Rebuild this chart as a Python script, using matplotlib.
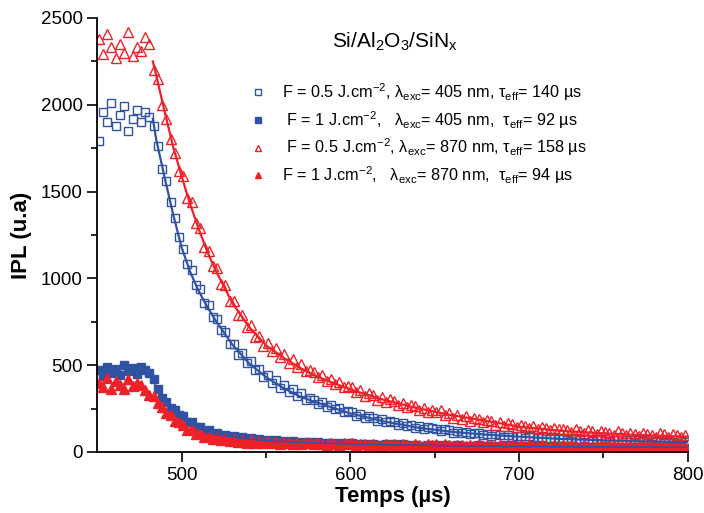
import matplotlib.pyplot as plt
import numpy as np

plt.rcParams['font.family'] = ['Liberation Sans', 'DejaVu Sans']
plt.rcParams['mathtext.fontset'] = 'custom'
plt.rcParams['mathtext.rm'] = 'Liberation Sans'
plt.rcParams['mathtext.it'] = 'Liberation Sans:italic'

# sample times (us), one point every 2.5 us
t = np.arange(451, 800, 2.5)

# F = 0.5 J/cm2, 405 nm (open squares)
b_open = [1790, 1960, 1900, 2010, 1880, 1940, 1990, 1850, 1920, 1970,
          1900, 1960, 1930, 1880, 1760, 1630, 1560, 1440, 1350, 1240,
          1170, 1080, 1050, 960, 940, 860, 845, 775, 765, 700,
          690, 620, 620, 560, 570, 512, 522, 470, 480, 432,
          445, 400, 414, 370, 386, 343, 360, 320, 338, 298,
          310, 298, 278, 285, 258, 268, 245, 252, 230, 238,
          228, 208, 218, 196, 205, 198, 180, 190, 170, 178,
          172, 158, 165, 150, 155, 140, 150, 132, 142, 136,
          135, 120, 130, 124, 112, 122, 108, 116, 104, 112,
          110, 98, 106, 94, 102, 98, 88, 97, 86, 94,
          92, 82, 90, 86, 78, 86, 75, 83, 80, 72,
          81, 70, 79, 74, 66, 77, 72, 64, 75, 70,
          72, 63, 70, 68, 60, 69, 66, 58, 67, 64,
          66, 58, 64, 62, 55, 63, 60, 54, 62, 59]

# F = 1 J/cm2, 405 nm (filled squares)
b_full = [470, 440, 490, 455, 480, 445, 500, 465, 485, 450,
          490, 470, 455, 420, 360, 310, 290, 255, 242, 210,
          205, 172, 170, 143, 145, 121, 124, 104, 109, 92,
          100, 82, 91, 75, 85, 69, 80, 65, 76, 61,
          70, 60, 66, 57, 63, 55, 61, 58, 52, 57,
          58, 49, 55, 47, 54, 50, 44, 51, 45, 49,
          50, 42, 48, 45, 40, 47, 42, 38, 45, 40,
          44, 37, 43, 40, 35, 42, 37, 34, 40, 36,
          41, 34, 39, 37, 32, 38, 34, 31, 37, 33,
          38, 31, 36, 34, 29, 35, 32, 29, 34, 31,
          36, 29, 35, 32, 27, 34, 30, 27, 33, 29,
          34, 27, 33, 30, 25, 32, 29, 25, 31, 27,
          32, 26, 31, 29, 24, 31, 27, 24, 30, 26,
          31, 25, 30, 28, 23, 30, 26, 23, 29, 25]

# F = 0.5 J/cm2, 870 nm (open triangles)
r_open = [2380, 2290, 2410, 2330, 2270, 2350, 2300, 2420, 2280, 2330,
          2310, 2390, 2350, 2200, 2150, 2000, 1920, 1800, 1720, 1620,
          1590, 1460, 1440, 1320, 1290, 1180, 1160, 1070, 1060, 970,
          960, 870, 870, 790, 790, 720, 730, 665, 670, 610,
          630, 580, 600, 545, 565, 515, 535, 490, 505, 465,
          470, 462, 430, 445, 410, 420, 390, 405, 372, 380,
          372, 345, 355, 325, 340, 330, 302, 318, 290, 305,
          295, 270, 282, 258, 270, 262, 240, 255, 228, 242,
          232, 240, 210, 222, 198, 214, 192, 205, 180, 196,
          190, 170, 184, 178, 158, 172, 150, 166, 162, 142,
          158, 152, 136, 150, 132, 146, 140, 124, 138, 133,
          132, 128, 114, 130, 122, 108, 124, 119, 104, 120,
          116, 112, 98, 118, 110, 96, 112, 105, 94, 110,
          106, 100, 88, 108, 102, 86, 104, 98, 84, 100]

# F = 1 J/cm2, 870 nm (filled triangles)
r_full = [400, 375, 425, 360, 410, 385, 365, 420, 380, 400,
          385, 355, 330, 320, 280, 260, 225, 210, 180, 170,
          158, 126, 130, 102, 110, 86, 94, 75, 85, 67,
          78, 61, 73, 57, 69, 54, 66, 51, 64, 49,
          60, 50, 57, 47, 56, 52, 45, 54, 47, 52,
          53, 44, 51, 47, 41, 50, 45, 40, 49, 43,
          49, 41, 47, 44, 38, 47, 42, 37, 46, 40,
          47, 39, 45, 42, 36, 44, 40, 35, 44, 38,
          44, 37, 43, 40, 34, 42, 38, 33, 42, 36,
          43, 35, 42, 38, 32, 41, 37, 32, 40, 35,
          41, 34, 40, 37, 31, 39, 35, 30, 39, 34,
          40, 33, 39, 36, 30, 38, 34, 29, 38, 33,
          39, 32, 38, 35, 29, 37, 33, 28, 37, 32,
          38, 31, 37, 34, 28, 36, 32, 28, 36, 31]

# fitted curves
fit_t = [483, 485, 490, 495, 500, 505, 510, 515, 520, 530, 540, 550, 560,
         570, 580, 600, 620, 640, 660, 680, 700, 725, 750, 775, 800]
fit_b_open = [1920, 1800, 1580, 1370, 1180, 1040, 930, 840, 760, 620, 510, 432,
              370, 320, 285, 222, 176, 140, 116, 100, 88, 75, 67, 61, 57]
fit_b_full = [420, 370, 295, 240, 200, 165, 138, 118, 104, 86, 74, 65, 60,
              55, 52, 46, 42, 39, 36, 34, 32, 30, 29, 28, 27]
fit_r_open = [2250, 2170, 1960, 1760, 1590, 1430, 1290, 1160, 1050, 860, 720,
              615, 545, 485, 435, 360, 300, 252, 212, 180, 146, 122, 107, 96, 88]
fit_r_full = [315, 295, 245, 195, 155, 125, 103, 88, 78, 65, 58, 53, 50,
              48, 46, 43, 41, 39, 38, 37, 36, 35, 34, 33, 33]

labels = [r'F = 0.5 J.cm$^{-2}$, λ$_{\mathrm{exc}}$= 405 nm, τ$_{\mathrm{eff}}$= 140 µs',
          r' F = 1 J.cm$^{-2}$,   λ$_{\mathrm{exc}}$= 405 nm,  τ$_{\mathrm{eff}}$= 92 µs',
          r' F = 0.5 J.cm$^{-2}$, λ$_{\mathrm{exc}}$= 870 nm, τ$_{\mathrm{eff}}$= 158 µs',
          r'F = 1 J.cm$^{-2}$,   λ$_{\mathrm{exc}}$= 870 nm,  τ$_{\mathrm{eff}}$= 94 µs']

blue = '#2f52a3'
red = '#ee2128'

fig = plt.figure(figsize=(7.04, 5.13), dpi=100)
ax = fig.add_axes([0.138, 0.119, 0.839, 0.846])

h1, = ax.plot(t, b_open, 's', ms=5.5, mfc='none', mec=blue, mew=1.0, label=labels[0])
h2, = ax.plot(t, b_full, 's', ms=5.5, mfc=blue, mec=blue, mew=1.0, label=labels[1])
h3, = ax.plot(t, r_open, '^', ms=6.5, mfc='none', mec=red, mew=1.0, label=labels[2])
h4, = ax.plot(t, r_full, '^', ms=6.5, mfc=red, mec=red, mew=1.0, label=labels[3])

ax.plot(fit_t, fit_b_open, '-', color=blue, lw=1.6)
ax.plot(fit_t, fit_r_open, '-', color=red, lw=1.6)
ax.plot(fit_t, fit_r_full, '-', color=red, lw=1.4)
ax.plot(fit_t, fit_b_full, '-', color=blue, lw=1.2)

ax.set_xlim(450, 800)
ax.set_ylim(0, 2500)
ax.set_xticks([500, 600, 700, 800])
ax.set_xticks([550, 650, 750], minor=True)
ax.set_yticks([0, 500, 1000, 1500, 2000, 2500])
ax.set_yticks([250, 750, 1250, 1750, 2250], minor=True)
ax.tick_params(which='major', length=7, width=1.2, labelsize=13.5, direction='out')
ax.tick_params(which='minor', length=4, width=1.2, direction='out')
ax.spines['top'].set_visible(False)
ax.spines['right'].set_visible(False)
ax.spines['left'].set_linewidth(1.3)
ax.spines['bottom'].set_linewidth(1.3)

ax.set_xlabel('Temps (µs)', fontsize=16, fontweight='bold', labelpad=2)
ax.set_ylabel('IPL (u.a)', fontsize=16, fontweight='bold', labelpad=6)

ax.text(0.504, 0.945, r'Si/Al$_2$O$_3$/SiN$_{\mathrm{x}}$', transform=ax.transAxes,
        fontsize=15, ha='center', va='center')

ax.legend(handles=[h1, h2, h3, h4], loc='upper left', bbox_to_anchor=(0.245, 0.873),
          frameon=False, fontsize=11.7, markerscale=0.75, handlelength=1.0,
          handletextpad=1.0, labelspacing=0.37, borderpad=0)

plt.savefig('out.png', dpi=100)
